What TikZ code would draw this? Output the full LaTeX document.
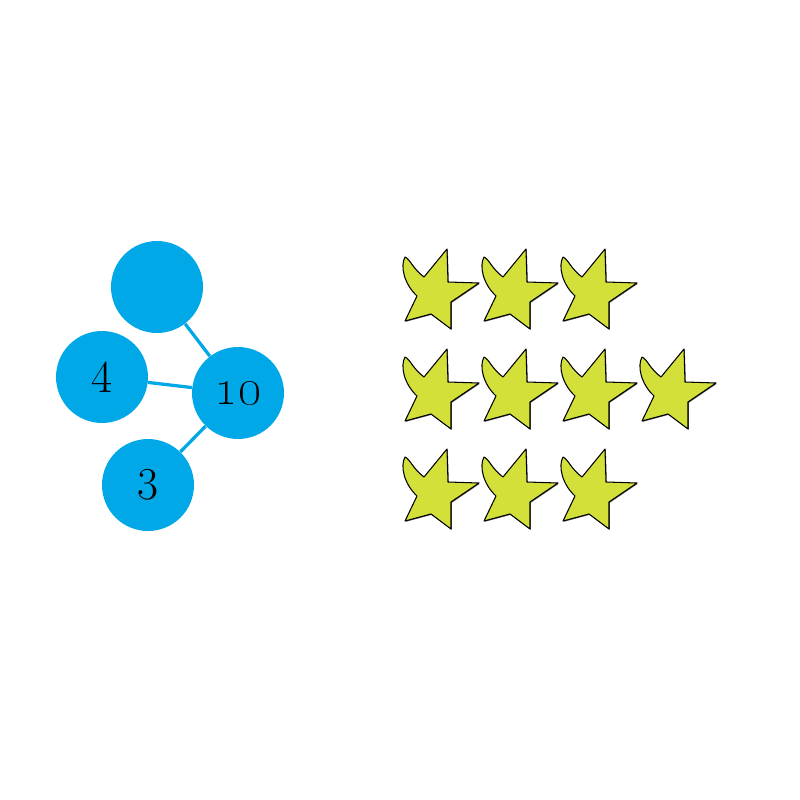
\documentclass[tikz,border=0pt]{standalone}
\definecolor{nodeblue}{RGB}{0,168,232}
\definecolor{starfill}{RGB}{212,224,58}
\tikzset{
  ball/.style={circle, fill=nodeblue, minimum size=1.84cm, inner sep=0pt, font=\fontsize{26}{30}\selectfont},
  link/.style={draw=nodeblue, line width=0.065cm},
  starshape/.style={fill=starfill, draw=black, line width=0.6pt, line join=round},
  pics/hstar/.style={code={
    \fill[black!60, shift={(0.8,0.8)}] (-37,-33) .. controls (-32,-31) and (-29,-21) .. (-18,-13) -- (5,-41) -- (6,-8) -- (37,-7) -- (9,12) -- (9,39) -- (-11,24) -- (-37,31) -- (-25,6) .. controls (-38,-6) and (-42,-24) .. cycle;
    \path[starshape] (-37,-33) .. controls (-32,-31) and (-29,-21) .. (-18,-13) -- (5,-41) -- (6,-8) -- (37,-7) -- (9,12) -- (9,39) -- (-11,24) -- (-37,31) -- (-25,6) .. controls (-38,-6) and (-42,-24) .. cycle;
  }}
}
\begin{document}
\begin{tikzpicture}[x=0.02cm, y=-0.02cm]
\useasboundingbox (0,0) rectangle (800,800);
\node[ball] (c0) at (157,287) {};
\node[ball] (c4) at (102,377) {4};
\node[ball] (c10) at (238,393) {\fontsize{31}{34}\selectfont\oldstylenums{10}};
\node[ball] (c3) at (148,485) {3};
\draw[link] (c0) -- (c10);
\draw[link] (c4) -- (c10);
\draw[link] (c3) -- (c10);
\foreach \x in {442,521,600} \pic at (\x,290) {hstar};
\foreach \x in {442,521,600,679} \pic at (\x,390) {hstar};
\foreach \x in {442,521,600} \pic at (\x,490) {hstar};
\end{tikzpicture}
\end{document}
